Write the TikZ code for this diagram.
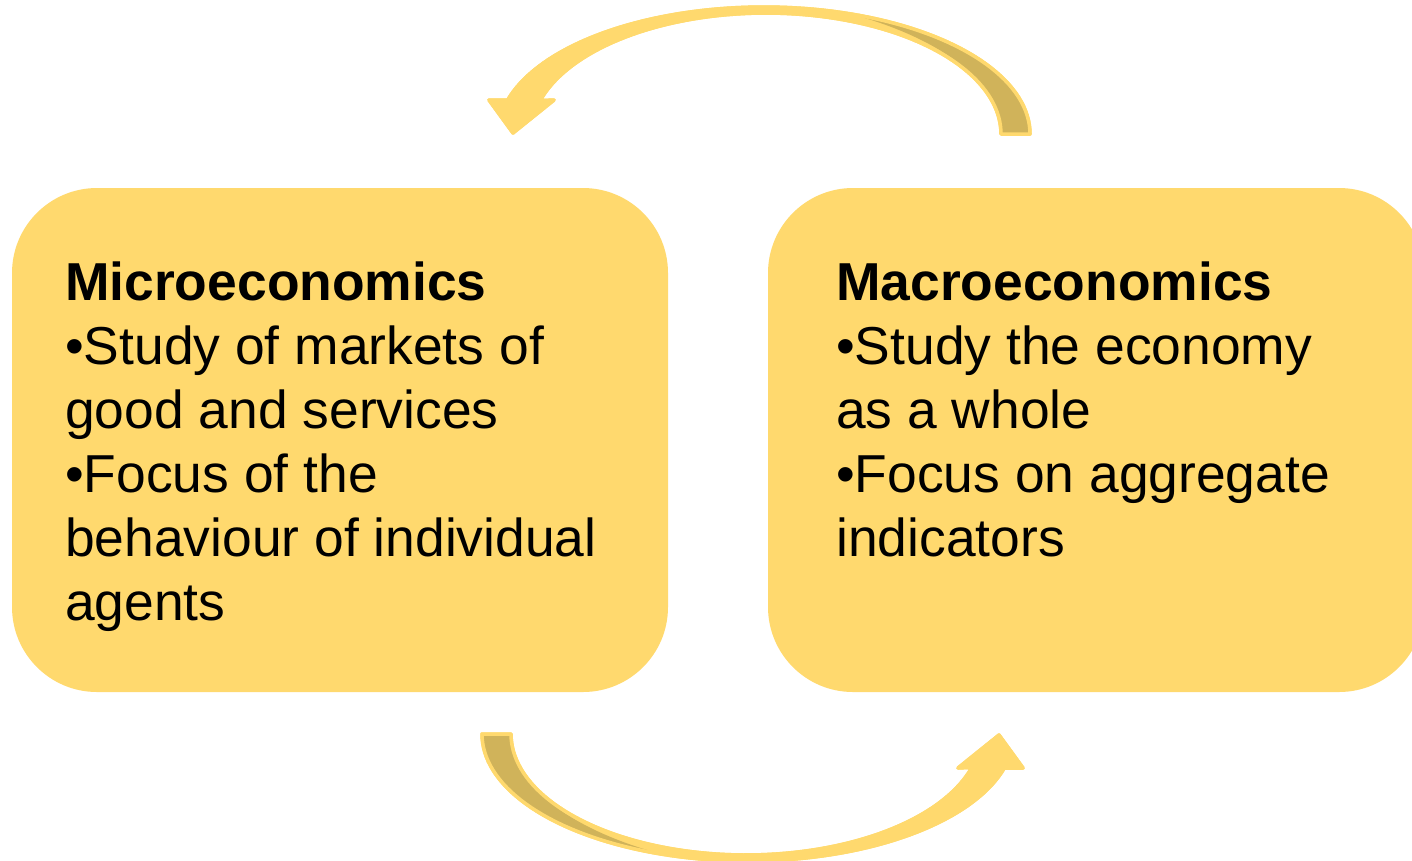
\documentclass[tikz,border=0pt]{standalone}
\usepackage{fontspec}
\setmainfont{Liberation Sans}
\definecolor{boxyellow}{HTML}{FFD96E}
\definecolor{backgold}{HTML}{D0B35A}
\tikzset{
  boxshape/.style={rectangle, rounded corners=85pt, fill=boxyellow, draw=none,
    minimum width=656pt, minimum height=504pt, inner sep=0pt},
  boxtext/.style={anchor=north west, align=left, inner sep=0pt, text=black,
    font=\fontsize{53.4}{64}\selectfont},
  ribbonfront/.style={fill=boxyellow, draw=boxyellow, line width=3.5pt, line join=round},
  ribbonline/.style={draw=boxyellow, line width=3.5pt, line join=round},
  ribbonback/.style={fill=backgold, draw=none}
}
\newcommand{\ribbonoutline}{%
  (513,133) -- (489,100) -- (507,100)
  -- plot[domain=164.8:0, samples=80, variable=\t] ({764+266*cos(\t)},{134-127*sin(\t)})
  -- (1001,134)
  -- plot[domain=0:164, samples=80, variable=\t] ({766+235*cos(\t)},{134-121*sin(\t)})
  -- (554,100) -- cycle}
\newcommand{\drawcyclearrow}{%
  \path[ribbonfront] \ribbonoutline;
  \fill[ribbonback] plot[domain=71:0, samples=60, variable=\t] ({764+266*cos(\t)},{134-127*sin(\t)})
    -- (1001,134) .. controls (1001,82) and (940,38) .. (850.6,13.9) -- cycle;
  \path[ribbonline] \ribbonoutline;
}
\begin{document}
\begin{tikzpicture}[x=1pt, y=-1pt]
  \useasboundingbox (0,0) rectangle (1412,860);
  \clip (0,0) rectangle (1412,860);
  \node[boxshape] (micro) at (340,440) {};
  \node[boxshape] (macro) at (1096,440) {};
  \node[boxtext] (microtext) at (65,262) {\textbf{Microeconomics}\\
    •Study of markets of\\ good and services\\ •Focus of the\\
    behaviour of individual\\ agents};
  \node[boxtext] (macrotext) at (836,262) {\textbf{Macroeconomics}\\
    •Study the economy\\ as a whole\\ •Focus on aggregate\\ indicators};
  \begin{scope}
    \drawcyclearrow
  \end{scope}
  \begin{scope}[rotate around={180:(756,434)}]
    \drawcyclearrow
  \end{scope}
\end{tikzpicture}
\end{document}
